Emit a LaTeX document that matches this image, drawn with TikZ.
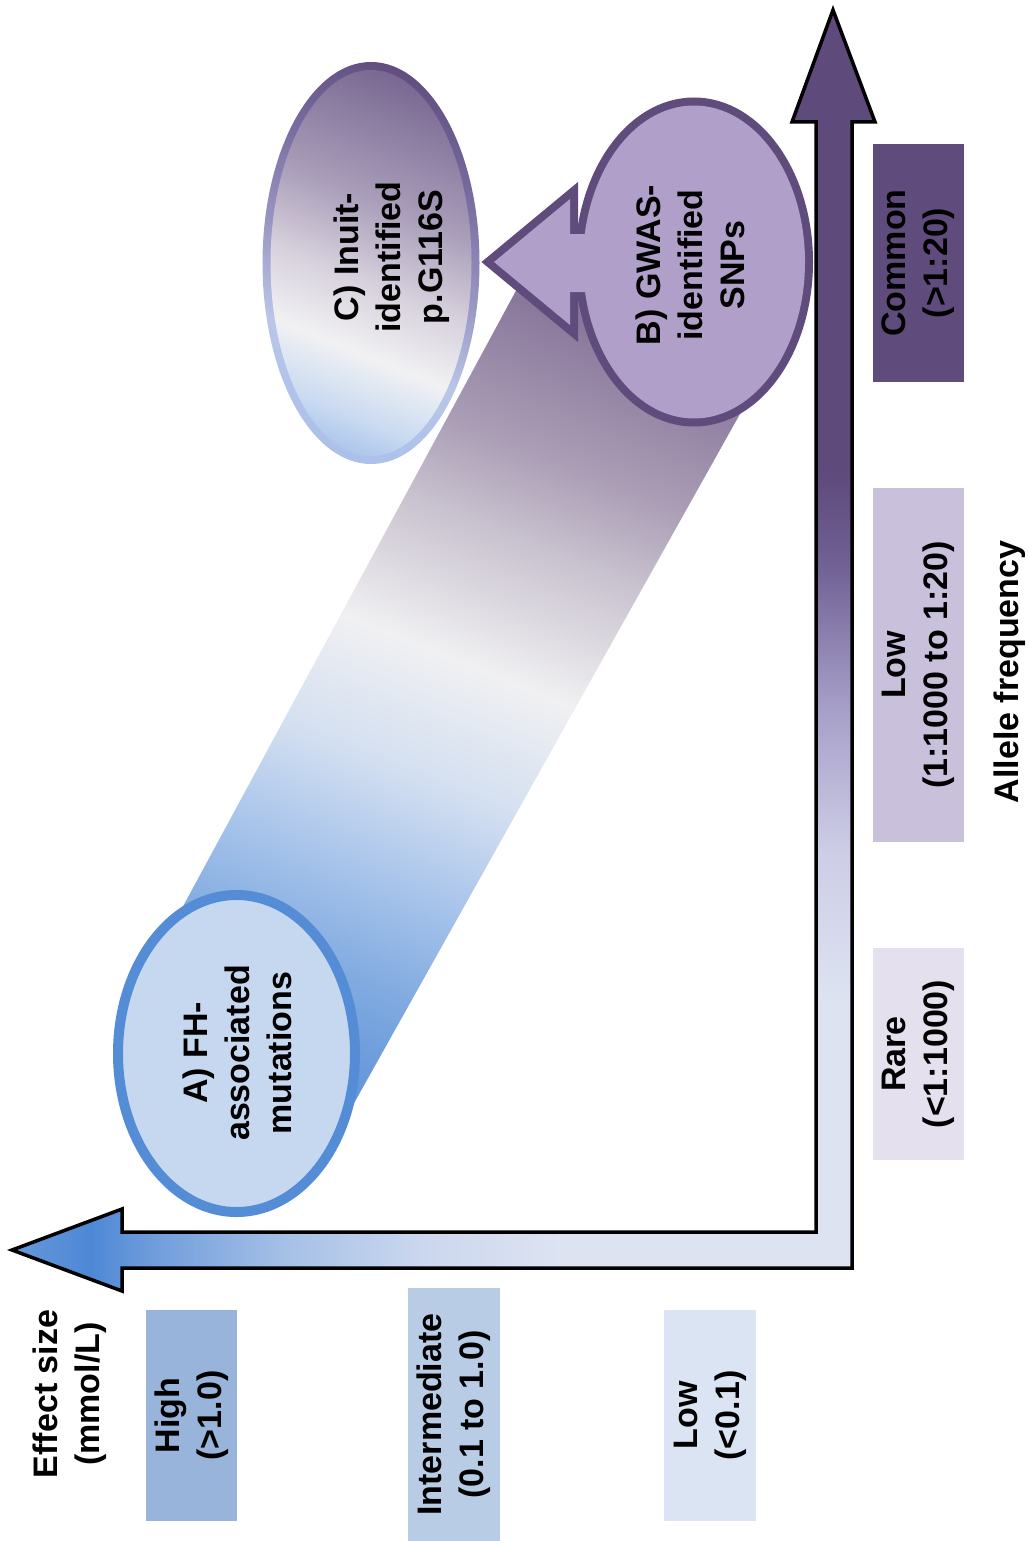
\documentclass[tikz,border=0pt]{standalone}
\usepackage{fontspec}
\setmainfont{Liberation Sans}
\usetikzlibrary{shapes.geometric}

% box and label colours
\definecolor{hiC}{HTML}{98B4DA}
\definecolor{midC}{HTML}{B8CCE6}
\definecolor{loC}{HTML}{DBE4F2}
\definecolor{comC}{HTML}{5F4B7C}
\definecolor{lowfC}{HTML}{C9C0DC}
\definecolor{rareC}{HTML}{E4E0EE}
% ellipse colours
\definecolor{aFill}{HTML}{C6D8F0}
\definecolor{aLine}{HTML}{548CD5}
\definecolor{bFill}{HTML}{B09FC8}
\definecolor{bLine}{HTML}{5F4B7C}
% band colours
\definecolor{bandA}{HTML}{6294D9}
\definecolor{bandA2}{HTML}{80AAE0}
\definecolor{bandB}{HTML}{A6C3EA}
\definecolor{bandC}{HTML}{D3DFF1}
\definecolor{bandW}{HTML}{F0F0F2}
\definecolor{bandD}{HTML}{C9C2CF}
\definecolor{bandE}{HTML}{AA9DB5}
\definecolor{bandF}{HTML}{8A789C}
% C ellipse colours
\definecolor{cfA}{HTML}{A4C0EA}
\definecolor{cfB}{HTML}{C9DAF1}
\definecolor{cfW}{HTML}{F1F1F3}
\definecolor{cfC}{HTML}{D7D1DD}
\definecolor{cfD}{HTML}{A99DB9}
\definecolor{cfE}{HTML}{766590}
\definecolor{crA}{HTML}{AAC0EA}
\definecolor{crB}{HTML}{B9C6E8}
\definecolor{crC}{HTML}{9A96C3}
\definecolor{crD}{HTML}{786B9F}
\definecolor{crE}{HTML}{5F4B7C}
% axis colours
\definecolor{axP}{HTML}{5E4A7B}
\definecolor{axP2}{HTML}{6F5F93}
\definecolor{axL1}{HTML}{A49CC6}
\definecolor{axL2}{HTML}{CDCDE6}
\definecolor{axLt}{HTML}{DDE3F1}
\definecolor{axM}{HTML}{CBD7EE}
\definecolor{axB1}{HTML}{A4BFE6}
\definecolor{axB2}{HTML}{6E9CDB}
\definecolor{axB3}{HTML}{4D88D5}
\definecolor{axTip}{HTML}{6B9AD9}

\pgfdeclareverticalshading{bandshade}{100bp}{color(0bp)=(bandA); color(31bp)=(bandA); color(36bp)=(bandA2); color(40.5bp)=(bandB); color(45.5bp)=(bandC); color(51bp)=(bandW); color(57bp)=(bandD); color(61bp)=(bandE); color(67bp)=(bandF); color(100bp)=(bandF)}
\pgfdeclareverticalshading{cfillshade}{100bp}{color(0bp)=(cfA); color(28bp)=(cfA); color(33bp)=(cfB); color(40bp)=(cfW); color(47.7bp)=(cfC); color(56.8bp)=(cfD); color(71.6bp)=(cfE); color(100bp)=(cfE)}
\pgfdeclareverticalshading{cringshade}{100bp}{color(0bp)=(crA); color(27bp)=(crA); color(40bp)=(crB); color(50bp)=(crC); color(61.4bp)=(crD); color(72.7bp)=(crE); color(100bp)=(crE)}

\tikzset{
  lbl/.style={font=\fontsize{34}{42}\selectfont\bfseries, align=center, inner sep=0pt, rotate=90},
  bx/.style={lbl, inner sep=0pt, draw=none},
  axline/.style={draw=black, line width=3.5pt, line join=miter},
}

\begin{document}
\begin{tikzpicture}[x=1pt, y=-1pt]
\useasboundingbox (0,0) rectangle (1028,1541);
\fill[white] (0,0) rectangle (1028,1541);

% gradient band from A to B
\begin{scope}
  \clip (154,960) -- (538,250) -- (787,330) -- (339,1130) -- cycle;
  \shade[shading=bandshade, shading angle=-22] (-90,130) rectangle (1030,1250);
\end{scope}

% A) ellipse
\draw[draw=aLine, fill=aFill, line width=10pt] (236.5,1053.5) ellipse [x radius=118.5pt, y radius=158.5pt];
\node[lbl] (tA) at (237,1053) {A) FH-\\associated\\mutations};

% B) ellipse with arrow towards C
\draw[bLine, line width=16pt, line join=miter] (694,262) ellipse [x radius=111pt, y radius=156.5pt];
\draw[bLine, line width=16pt, line join=miter] (494,262) -- (570,199) -- (570,234) -- (640,234) -- (640,292) -- (570,292) -- (570,325) -- cycle;
\fill[bFill] (694,262) ellipse [x radius=111pt, y radius=156.5pt];
\fill[bFill] (494,262) -- (570,199) -- (570,234) -- (640,234) -- (640,292) -- (570,292) -- (570,325) -- cycle;
\node[lbl] (tB) at (690,265) {B) GWAS-\\identified\\SNPs};

% C) ellipse with shaded ring and body
\begin{scope}
  \clip (371,263) ellipse [x radius=108.5pt, y radius=201pt];
  \shade[shading=cringshade, shading angle=-22] (151,43) rectangle (591,483);
\end{scope}
\begin{scope}
  \clip (371,263) ellipse [x radius=100.5pt, y radius=193pt];
  \shade[shading=cfillshade, shading angle=-22] (151,43) rectangle (591,483);
\end{scope}
\node[lbl] (tC) at (392,257) {C) Inuit-\\identified\\p.G116S};

% L-shaped double axis arrow
\begin{scope}
  \clip (833,10) -- (875,122) -- (852,122) -- (852,1268) -- (122,1268) -- (122,1291) -- (12,1250) -- (122,1209) -- (122,1232) -- (816,1232) -- (816,122) -- (792,122) -- cycle;
  \fill[axP] (780,0) rectangle (880,471);
  \shade[top color=axP, bottom color=axP2] (780,470) rectangle (880,561);
  \shade[top color=axP2, bottom color=axL1] (780,560) rectangle (880,701);
  \shade[top color=axL1, bottom color=axL2] (780,700) rectangle (880,851);
  \shade[top color=axL2, bottom color=axLt] (780,850) rectangle (880,1001);
  \fill[axLt] (780,1000) rectangle (880,1300);
  \fill[axLt] (560,1200) rectangle (781,1300);
  \shade[left color=axM, right color=axLt] (420,1200) rectangle (561,1300);
  \shade[left color=axB1, right color=axM] (280,1200) rectangle (421,1300);
  \shade[left color=axB2, right color=axB1] (150,1200) rectangle (281,1300);
  \shade[left color=axB3, right color=axB2] (90,1200) rectangle (151,1300);
  \shade[left color=axTip, right color=axB3] (0,1200) rectangle (91,1300);
\end{scope}
\path[axline] (833,10) -- (875,122) -- (852,122) -- (852,1268) -- (122,1268) -- (122,1291) -- (12,1250) -- (122,1209) -- (122,1232) -- (816,1232) -- (816,122) -- (792,122) -- cycle;

% effect size scale
\node[lbl] (effect) at (70,1394) {Effect size\\(mmol/L)};
\node[bx, fill=hiC, minimum width=211pt, minimum height=91pt] (high) at (191.5,1415.5) {High\\(>1.0)};
\node[bx, fill=midC, minimum width=253pt, minimum height=92pt] (inter) at (454,1414.5) {Intermediate\\(0.1 to 1.0)};
\node[bx, fill=loC, minimum width=211pt, minimum height=92pt] (loweff) at (710,1415.5) {Low\\(<0.1)};

% allele frequency scale
\node[bx, fill=comC, minimum width=238pt, minimum height=91pt] (common) at (918.5,263) {Common\\(>1:20)};
\node[bx, fill=lowfC, minimum width=354pt, minimum height=91pt] (lowfreq) at (918.5,665) {Low\\(1:1000 to 1:20)};
\node[bx, fill=rareC, minimum width=212pt, minimum height=91pt] (rare) at (918.5,1054) {Rare\\(<1:1000)};
\node[lbl] (allele) at (1010,672) {Allele frequency};
\end{tikzpicture}
\end{document}
